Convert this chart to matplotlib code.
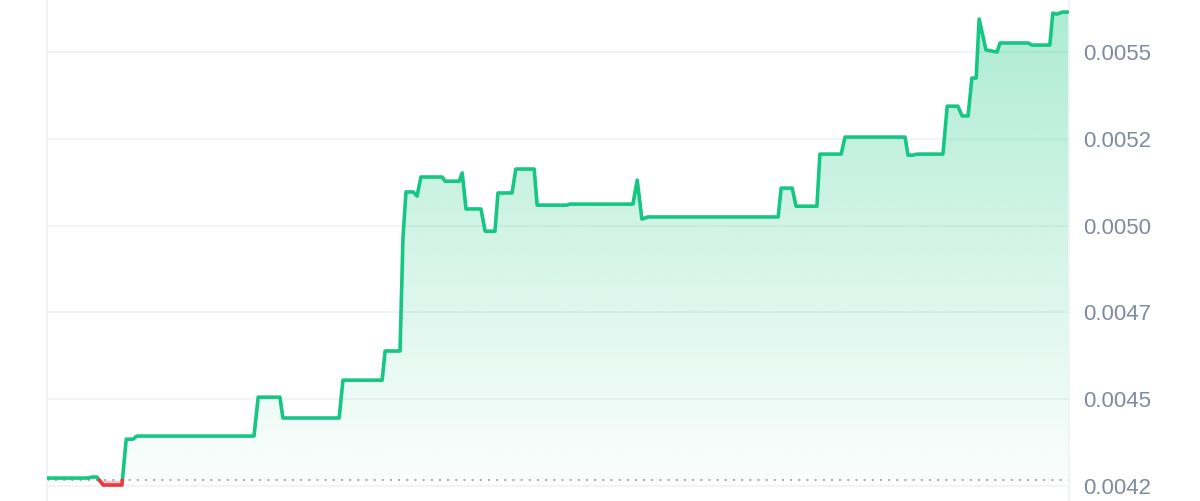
import numpy as np
import matplotlib
matplotlib.use('Agg')
import matplotlib.pyplot as plt
from matplotlib.path import Path

# price history, 24h (hours, price)
hours = [0.0, 0.96, 1.06, 1.17, 1.32, 1.76, 1.86, 2.02, 2.11, 4.86, 4.96, 5.47,
         5.54, 6.86, 6.95, 7.87, 7.94, 8.29, 8.36, 8.43, 8.60, 8.69, 8.78, 9.28,
         9.35, 9.68, 9.75, 9.84, 10.19, 10.29, 10.52, 10.59, 10.92, 11.01, 11.44,
         11.51, 12.21, 12.28, 13.76, 13.86, 13.97, 14.11, 17.17, 17.24, 17.50,
         17.59, 18.08, 18.15, 18.65, 18.74, 20.15, 20.22, 20.34, 20.43, 21.04,
         21.14, 21.39, 21.49, 21.63, 21.72, 21.82, 21.89, 22.05, 22.31, 22.38,
         23.04, 23.13, 23.55, 23.62, 23.72, 23.84, 23.98]
prices = [0.004243, 0.004243, 0.004246, 0.004246, 0.004223, 0.004223, 0.004355,
          0.004355, 0.004364, 0.004364, 0.004476, 0.004476, 0.004416, 0.004416,
          0.004525, 0.004525, 0.004609, 0.004609, 0.004937, 0.005067, 0.005067,
          0.005055, 0.005110, 0.005110, 0.005098, 0.005098, 0.005122, 0.005018,
          0.005018, 0.004954, 0.004954, 0.005064, 0.005064, 0.005133, 0.005133,
          0.005029, 0.005029, 0.005032, 0.005032, 0.005101, 0.004989, 0.004995,
          0.004995, 0.005078, 0.005078, 0.005026, 0.005026, 0.005176, 0.005176,
          0.005225, 0.005225, 0.005173, 0.005173, 0.005176, 0.005176, 0.005314,
          0.005314, 0.005286, 0.005286, 0.005395, 0.005395, 0.005565, 0.005476,
          0.005470, 0.005496, 0.005496, 0.005490, 0.005490, 0.005582, 0.005579,
          0.005585, 0.005585]
open_price = 0.004237
yticks = [0.00422, 0.00447, 0.00472, 0.00497, 0.00522, 0.00547]

green = '#16c784'
red = '#ea3943'
grid_c = '#eff2f5'
text_c = '#808a9d'

t = np.array(hours)
p = np.array(prices)

# add points where the line crosses the open price, so colours split cleanly
xs, ys = [t[0]], [p[0]]
for i in range(1, len(t)):
    if (p[i-1] - open_price) * (p[i] - open_price) < 0:
        tc = t[i-1] + (open_price - p[i-1]) / (p[i] - p[i-1]) * (t[i] - t[i-1])
        xs.append(tc)
        ys.append(open_price)
    xs.append(t[i])
    ys.append(p[i])
xs = np.array(xs)
ys = np.array(ys)

fig = plt.figure(figsize=(12, 5.01), dpi=100)
ax = fig.add_axes([47/1200, 0, 1022/1200, 1])
ymin, ymax = 0.004177, 0.0056198
ax.set_xlim(0, 24)
ax.set_ylim(ymin, ymax)

for v in yticks:
    ax.axhline(v, color=grid_c, lw=1.2, zorder=0)

# gradient fill above open price
up = ax.fill_between(xs, ys, open_price, where=ys >= open_price,
                     interpolate=True, color='none', lw=0)
clip = Path.make_compound_path(*up.get_paths())
grad = np.zeros((256, 1, 4))
c = matplotlib.colors.to_rgb(green)
grad[:, 0, :3] = c
grad[:, 0, 3] = np.linspace(0.36, 0.02, 256)
im = ax.imshow(grad, extent=[0, 24, open_price, ymax], origin='upper',
               aspect='auto', zorder=1, interpolation='bilinear')
im.set_clip_path(clip, transform=ax.transData)

ax.fill_between(xs, ys, open_price, where=ys <= open_price, interpolate=True,
                color=red, alpha=0.3, lw=0, zorder=1)

ax.axhline(open_price, color='#a1a7b3', lw=1.4, ls=(0, (1, 3.2)), zorder=2)

ax.plot(xs, np.where(ys >= open_price, ys, np.nan), color=green, lw=2.6,
        solid_capstyle='round', solid_joinstyle='round', zorder=3)
ax.plot(xs, np.where(ys <= open_price, ys, np.nan), color=red, lw=2.6,
        solid_capstyle='round', solid_joinstyle='round', zorder=3)

for s in ['top', 'bottom']:
    ax.spines[s].set_visible(False)
for s in ['left', 'right']:
    ax.spines[s].set_color(grid_c)
    ax.spines[s].set_linewidth(1.2)

ax.set_xticks([])
ax.yaxis.tick_right()
ax.set_yticks(yticks)
ax.set_yticklabels(['%.4f' % v for v in yticks])
ax.tick_params(axis='y', length=0, pad=10, labelsize=16, labelcolor=text_c)
for lab in ax.get_yticklabels():
    lab.set_family('Liberation Sans')

fig.savefig('out.png', dpi=100)
